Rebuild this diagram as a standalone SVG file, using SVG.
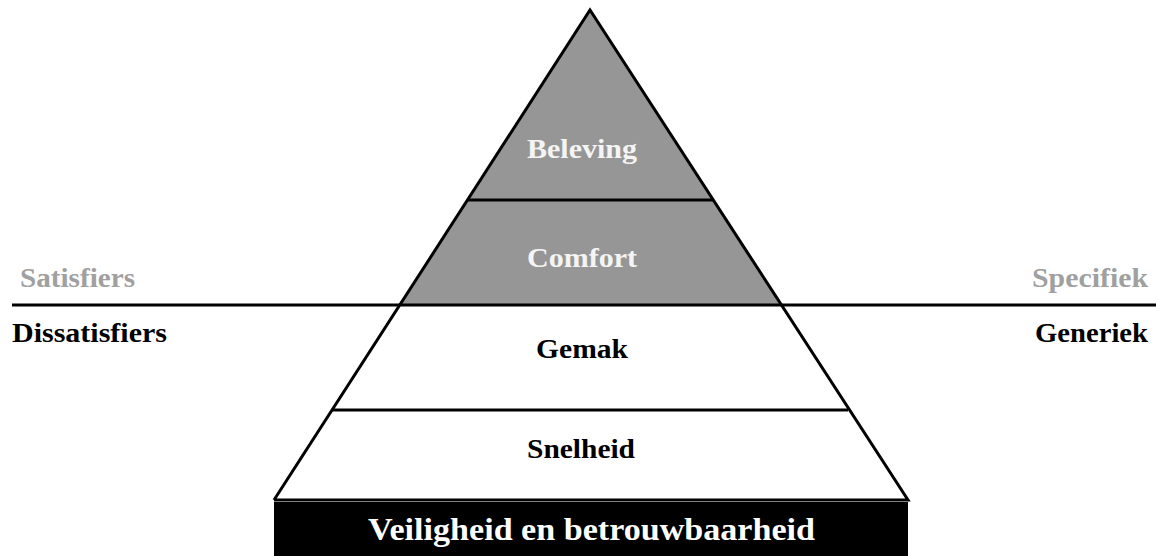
<svg xmlns="http://www.w3.org/2000/svg" width="1156" height="556" viewBox="0 0 1156 556">
<style>
text{font-family:"Liberation Serif","Times New Roman",serif;font-weight:bold;font-size:28px;}
.w{fill:#f4f4f4;}
.k{fill:#000;}
.g{fill:#a0a0a0;}
.ln{stroke:#000;stroke-width:3;fill:none;}
</style>
<rect width="1156" height="556" fill="#fff"/>
<g id="beleving">
<polygon points="590,10 468,200 713,200" fill="#969696"/>
<text class="w" x="527" y="158" textLength="110" lengthAdjust="spacingAndGlyphs">Beleving</text>
</g>
<g id="comfort">
<polygon points="468,200 713,200 781,305 400,305" fill="#969696"/>
<text class="w" x="527" y="267" textLength="110" lengthAdjust="spacingAndGlyphs">Comfort</text>
</g>
<g id="gemak">
<text class="k" x="536" y="358" textLength="92" lengthAdjust="spacingAndGlyphs">Gemak</text>
</g>
<g id="snelheid">
<text class="k" x="527" y="458" textLength="108" lengthAdjust="spacingAndGlyphs">Snelheid</text>
</g>
<g id="veiligheid">
<rect x="274" y="502" width="634" height="54" fill="#000"/>
<text fill="#fff" x="368" y="540" style="font-size:32px" textLength="447" lengthAdjust="spacingAndGlyphs">Veiligheid en betrouwbaarheid</text>
</g>
<g id="labels">
<text class="g" x="20" y="287" textLength="115" lengthAdjust="spacingAndGlyphs">Satisfiers</text>
<text class="k" x="12" y="342" textLength="155" lengthAdjust="spacingAndGlyphs">Dissatisfiers</text>
<text class="g" x="1032" y="287" textLength="116" lengthAdjust="spacingAndGlyphs">Specifiek</text>
<text class="k" x="1035" y="342" textLength="113" lengthAdjust="spacingAndGlyphs">Generiek</text>
</g>
<g id="connectors">
<polyline class="ln" points="274,500 590,10 908,500 274,500"/>
<line class="ln" x1="468" y1="200" x2="713" y2="200"/>
<line class="ln" x1="12" y1="305" x2="1156" y2="305"/>
<line class="ln" x1="332" y1="410" x2="848" y2="410"/>
</g>
</svg>
